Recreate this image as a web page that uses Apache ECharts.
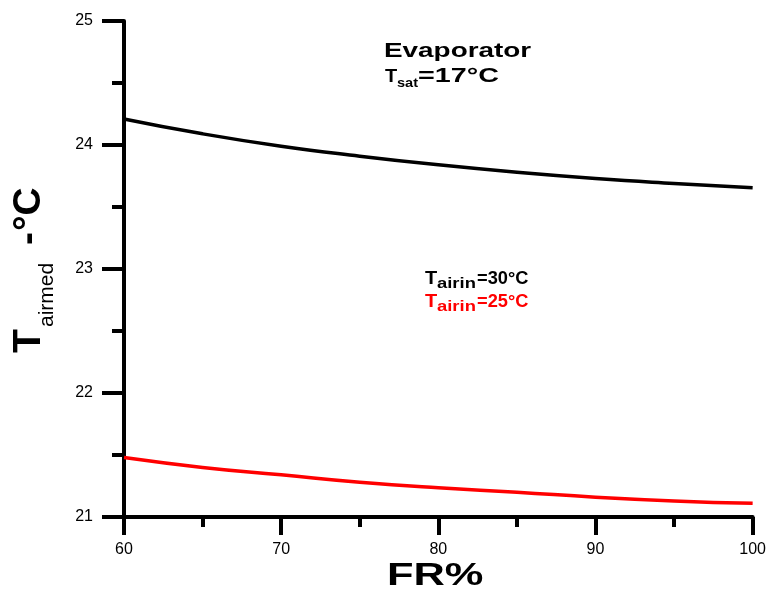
<!DOCTYPE html>
<html>
<head>
<meta charset="utf-8">
<script src="https://cdn.jsdelivr.net/npm/echarts@6/dist/echarts.min.js"></script>
<style>
  html, body { margin: 0; padding: 0; background: #fff; }
  #chart { width: 769px; height: 592px; }
</style>
</head>
<body>
<div id="chart"></div>
<script>
// Flow rate (FR %) samples
const frPercent = [60, 65, 70, 75, 80, 85, 90, 95, 100];
// Mid air temperature (°C) for inlet air at 30 °C
const tAirmed30 = [24.21, 24.09, 23.99, 23.91, 23.84, 23.78, 23.73, 23.69, 23.655];
// Mid air temperature (°C) for inlet air at 25 °C
const tAirmed25 = [21.48, 21.40, 21.34, 21.28, 21.235, 21.20, 21.16, 21.13, 21.11];

const xTicks = { min: 60, max: 100, interval: 10 };
const yTicks = { min: 21, max: 25, interval: 1 };

const FONT = 'Liberation Sans';

// Text piece placed by its left edge and baseline; optional horizontal stretch / rotation
function piece(text, x, baseline, size, opts) {
  opts = opts || {};
  const rot = opts.rotation || 0;
  const shift = 0.35 * size;
  return {
    type: 'text',
    x: rot ? baseline - shift : x,
    y: rot ? x : baseline - shift,
    rotation: rot,
    scaleX: opts.sx || 1,
    z: 100,
    style: {
      text: text,
      x: 0,
      y: 0,
      fontFamily: FONT,
      fontSize: size,
      fontWeight: opts.weight || 'bold',
      fill: opts.color || '#000',
      align: 'left',
      verticalAlign: 'middle'
    }
  };
}

const chart = echarts.init(document.getElementById('chart'), null, { renderer: 'canvas' });

const axisLine = { lineStyle: { color: '#000', width: 4 } };

chart.setOption({
  animation: false,
  backgroundColor: '#fff',
  grid: { left: 124, right: 13, top: 21, bottom: 75, containLabel: false },
  xAxis: {
    type: 'value',
    min: xTicks.min,
    max: xTicks.max,
    interval: xTicks.interval,
    axisLine: axisLine,
    axisTick: { show: true, inside: false, length: 18, lineStyle: { color: '#000', width: 4 } },
    minorTick: { show: true, splitNumber: 2, length: 10, lineStyle: { color: '#000', width: 4 } },
    splitLine: { show: false },
    minorSplitLine: { show: false },
    axisLabel: { margin: 25, color: '#000', fontFamily: FONT, fontSize: 16 }
  },
  yAxis: {
    type: 'value',
    min: yTicks.min,
    max: yTicks.max,
    interval: yTicks.interval,
    axisLine: axisLine,
    axisTick: { show: true, inside: false, length: 22, lineStyle: { color: '#000', width: 4 } },
    minorTick: { show: true, splitNumber: 2, length: 12, lineStyle: { color: '#000', width: 4 } },
    splitLine: { show: false },
    minorSplitLine: { show: false },
    axisLabel: { margin: 31, color: '#000', fontFamily: FONT, fontSize: 16 }
  },
  series: [
    {
      name: 'Tairin=30°C',
      type: 'line',
      smooth: true,
      showSymbol: false,
      data: frPercent.map((f, i) => [f, tAirmed30[i]]),
      lineStyle: { color: '#000', width: 3.5 },
      z: 3
    },
    {
      name: 'Tairin=25°C',
      type: 'line',
      smooth: true,
      showSymbol: false,
      data: frPercent.map((f, i) => [f, tAirmed25[i]]),
      lineStyle: { color: '#ff0000', width: 3.5 },
      z: 3
    }
  ],
  graphic: [
    // heading
    piece('Evaporator', 384, 59, 20.5, { sx: 1.36 }),
    piece('T', 385, 83.5, 19, { sx: 1.05 }),
    piece('sat', 397, 88.5, 13.5, { sx: 1.08 }),
    piece('=17°C', 418, 83.5, 20.5, { sx: 1.4 }),
    // series labels
    piece('T', 425, 285.5, 19, { sx: 1.05 }),
    piece('airin', 437, 289.5, 14.5, { sx: 1.27 }),
    piece('=30°C', 477, 285.5, 19, { sx: 0.96 }),
    piece('T', 425, 308.5, 19, { sx: 1.05, color: '#ff0000' }),
    piece('airin', 437, 312.5, 14.5, { sx: 1.27, color: '#ff0000' }),
    piece('=25°C', 477, 308.5, 19, { sx: 0.96, color: '#ff0000' }),
    // x axis title
    piece('FR%', 387, 587, 31, { sx: 1.4 }),
    // y axis title (reads bottom to top)
    piece('T', 353, 43, 39, { rotation: Math.PI / 2 }),
    piece('airmed', 327, 55, 21, { rotation: Math.PI / 2, weight: 'normal' }),
    piece('-', 245, 43, 39, { rotation: Math.PI / 2 }),
    piece('°C', 231, 43, 39, { rotation: Math.PI / 2 })
  ]
});
</script>
</body>
</html>
